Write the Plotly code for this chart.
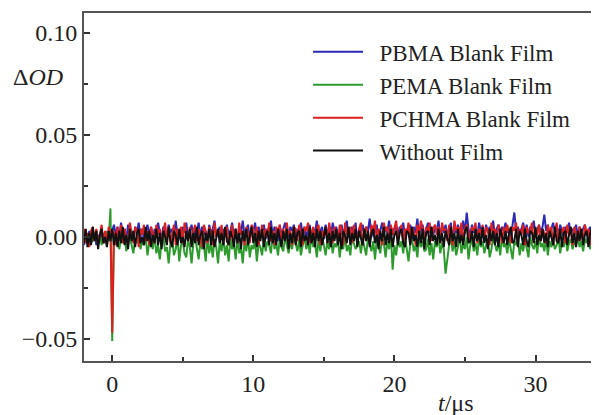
import plotly.graph_objects as go

# Time axis: uniform instrument sampling (µs)
T_START = -2.0
T_STEP = 0.125
N_POINTS = 293
t_us = [T_START + T_STEP * i for i in range(N_POINTS)]

# ΔOD values in mOD (1e-3)
pbma_mod = [
    -4, 1, -2, 3, -3, 0, 2, -4, 1, -1, 3, -3, 0, 2, -2, 4, 3, 6, 1, 5,
    0, 7, 2, 4, -1, 6, 1, 3, -2, 5, 2, 7, 0, 4, -1, 3, 6, 1, 5, -2,
    4, 1, 7, 2, 0, 5, 3, -1, 6, 2, 4, 0, 8, 1, 3, -2, 5, 2, 7, 0,
    3, 6, -1, 4, 2, 7, 0, 5, 1, 3, -2, 6, 2, 4, 8, 0, 3, 5, -1, 4,
    2, 6, 1, 3, 7, 0, 4, -2, 5, 2, 8, 1, 3, 6, -1, 4, 2, 7, 0, 5,
    1, 3, 6, -1, 4, 2, 8, 0, 5, 3, -2, 6, 1, 4, 7, 2, 0, 5, 3, 6,
    -1, 4, 2, 7, 1, 5, 0, 3, 6, -2, 4, 2, 8, 1, 3, 5, -1, 6, 2, 4,
    0, 7, 3, 5, 1, -1, 6, 2, 4, 8, 0, 3, 5, 1, 7, -2, 4, 2, 6, 1,
    5, 3, 9, 0, 4, 2, 6, -1, 3, 7, 1, 5, 2, 8, 0, 4, 3, 6, 1, 5,
    2, 7, 0, 4, 3, 6, -1, 5, 2, 9, 1, 4, 6, 0, 3, 7, 2, 5, 1, 4,
    3, 8, 0, 5, 2, 6, 1, 4, 7, -1, 5, 2, 6, 3, 0, 8, 2, 12, 4, 1,
    6, 2, 5, 0, 7, 3, 4, 1, 6, 2, 5, 3, 8, 0, 4, 6, 1, 5, 3, 7,
    2, 4, 0, 6, 12, 3, 5, 1, 4, 7, 2, 6, 0, 5, 3, 8, 1, 4, 6, 2,
    5, 11, 3, 6, 0, 4, 7, 2, 5, 1, 6, 3, 0, 5, 2, 7, 1, 4, 3, 6,
    0, 5, 2, 4, 6, 1, 3, 5, 0, 4, 2, 6, 1,
]
pema_mod = [
    2, -3, 1, -4, 3, -2, 0, 3, -3, 1, -4, 2, -1, 3, -2, 14, -51, 2, -4, 0,
    -6, -1, -3, 1, -7, -2, 0, -5, -8, -1, -3, 2, -6, -2, -4, 0, -9, -3, -1, -6,
    1, -8, -4, -11, -2, 0, -7, -5, -13, -3, -1, -9, -6, 0, -12, -4, -2, -8, -10, -1,
    -5, -13, -3, 0, -7, -11, -2, -6, -4, -12, 0, -8, -3, -10, -1, -5, -13, -2, -7, 0,
    -9, -4, -12, -1, -6, -3, -11, 0, -8, -5, -13, -2, -7, 0, -10, -4, -6, -1, -12, -3,
    -5, -9, 0, -7, -2, -4, -8, 1, -6, -3, -9, -1, -5, -7, 0, -4, -8, -2, -6, 1,
    -3, -7, -1, -9, -4, 0, -6, -2, -8, 1, -5, -3, -10, -1, -7, 0, -4, -9, -2, -6,
    0, -8, -3, -5, -1, -10, -2, -6, 1, -7, -4, -9, 0, -3, -6, -4, -2, -8, -1, -5,
    -9, 0, -4, -7, -2, -11, -1, -5, -8, 0, -3, -10, -2, -6, 1, -16, -4, -9, -1, -5,
    -2, -8, 0, -6, -12, -3, -1, -7, -4, -10, 0, -5, -2, -7, -6, -1, -9, -3, -11, -2,
    -5, 0, -8, -3, -6, -18, -10, -4, 0, -7, -2, -9, -5, 1, -8, -3, -6, 0, -11, -4,
    -1, -7, -3, -9, 0, -5, -2, -8, -4, -1, -10, -6, 0, -3, -7, -2, -9, 1, -5, -3,
    -8, -1, -6, -11, -2, -4, 0, -9, -3, -7, -1, -5, -10, 0, -4, -6, -2, -8, 1, -5,
    -3, -7, 0, -9, -2, -5, -1, -6, -4, 0, -8, -2, -5, 1, -7, -3, -1, -6, -2, -4,
    0, -5, -2, -7, -1, -3, 1, -6, -2, -4, 0, -5, -2,
]
pchma_mod = [
    4, -3, 2, -5, 3, 5, -2, 4, -4, 1, 6, -3, 3, -4, 5, 2, -47, 3, -4, 5,
    -2, 6, -3, 4, 0, -4, 7, 2, -3, 5, 3, -5, 4, 1, 6, -2, 3, -4, 5, 2,
    -3, 6, 1, 4, -4, 3, 7, -2, 5, -3, 2, 6, -4, 4, 0, 5, -3, 7, 2, -2,
    5, -4, 3, 6, -2, 4, 1, -5, 6, 3, -3, 5, 2, -4, 7, 0, 4, -2, 6, -3,
    3, 5, -4, 2, 6, -2, 4, -3, 7, 1, 3, -4, 5, 2, -3, 6, 4, -2, 5, -4,
    2, 6, -3, 4, 0, 7, -2, 3, -4, 5, 2, 6, -3, 4, -2, 7, 1, 3, -4, 5,
    4, -2, 6, 1, -4, 5, 3, 7, -3, 2, 5, -2, 4, 6, -4, 3, 0, 5, -3, 7,
    2, -3, 5, 3, -2, 6, 4, -4, 7, 1, 3, 5, -3, 6, 2, -2, 4, 7, -4, 3,
    5, 0, -3, 6, 3, 8, -2, 4, 2, -4, 7, 3, 5, -3, 6, 1, 4, 8, -2, 3,
    6, -3, 4, 2, 7, -2, 5, 3, -4, 6, 1, 8, 4, -3, 5, 2, 7, -2, 4, 6,
    1, 5, -3, 7, 3, 4, -2, 6, 2, -4, 8, 3, 5, 1, 7, -3, 4, 6, 2, -2,
    5, 3, 7, -3, 4, 1, 6, -2, 5, 3, -4, 7, 2, 4, -2, 6, 3, -3, 5, 1,
    6, 2, -3, 5, 3, 7, -2, 4, 1, 6, -4, 5, 2, 3, 7, -3, 4, 1, 6, -2,
    4, 2, -3, 6, 1, 5, -4, 3, 7, -2, 4, 2, 5, -3, 6, 1, 3, -4, 5, 2,
    -2, 5, 3, -3, 6, 1, 4, -4, 3, 5, -2, 4, 1,
]
nofilm_mod = [
    -3, 4, -5, 2, -4, 5, -2, 3, -6, 1, 4, -3, 0, -5, 3, -2, 4, -4, 2, -5,
    3, -3, 5, -4, 1, -6, 4, -2, 3, -5, 2, 4, -3, 0, -4, 5, -2, 3, -5, 1,
    -3, 4, -4, 2, -6, 3, 0, -4, 5, -2, -5, 3, 1, -4, 4, -3, 0, -5, 3, -2,
    4, -5, 2, -3, 5, -4, 1, 3, -6, 2, -2, 4, -4, 3, -5, 0, 4, -3, 2, -4,
    5, -2, -4, 3, 0, -5, 4, -3, 2, -6, 3, -2, 4, -4, 1, 5, -3, 2, -5, 3,
    -2, 4, -5, 1, 3, -4, 5, -3, 2, -4, 4, 0, -5, 3, -2, 4, -6, 2, -3, 5,
    -4, 2, 3, -5, 4, -2, 1, -4, 5, -3, 2, -5, 4, -2, 3, -4, 0, 5, -3, 2,
    -5, 3, -2, 4, -4, 2, -6, 3, 1, -3, 5, -4, 2, -2, 4, -5, 3, 0, -4, 4,
    -2, 3, -5, 2, 4, -3, 1, -6, 3, -2, 5, -4, 2, -3, 4, -5, 1, 3, -4, 2,
    4, -3, -5, 3, 2, -4, 5, -2, 1, -5, 3, -3, 4, -6, 2, 3, -4, 5, -2, 1,
    -4, 4, -3, 2, -5, 3, 0, -4, 5, -2, 2, -5, 4, -3, 1, -4, 3, 5, -3, -2,
    3, -5, 4, -2, 2, -4, 5, -3, 1, -6, 4, -2, 3, -4, 2, -5, 4, 0, -3, 3,
    -4, 2, 5, -3, -2, 4, -5, 3, 1, -4, 4, -2, -5, 3, 2, -3, 5, -4, 1, -2,
    4, -3, 2, -5, 3, 0, -4, 5, -2, -3, 4, -5, 2, 3, -4, 1, 5, -3, 2, -5,
    3, -2, 4, -4, 1, 3, -5, 2, 4, -3, -2, 4, -4,
]

series_names = ["PBMA Blank Film", "PEMA Blank Film", "PCHMA Blank Film", "Without Film"]
series_values = [pbma_mod, pema_mod, pchma_mod, nofilm_mod]
series_colors = ["#2a2ab8", "#2e9a2e", "#dc2020", "#111111"]

x_tickvals = [0, 10, 20, 30]
y_tickvals = [-0.05, 0.0, 0.05, 0.10]

FONT = "Liberation Serif, Times New Roman, serif"
FS = 24
LEG_FS = 23
PAD = "\u00a0\u00a0"  # small gap between legend line and label

fig = go.Figure()
for name, vals, col in zip(series_names, series_values, series_colors):
    n = min(len(vals), len(t_us))
    fig.add_trace(go.Scatter(
        x=t_us[:n], y=[v / 1000.0 for v in vals[:n]], mode="lines", name=PAD + name,
        line=dict(color=col, width=2.0),
    ))

axis_common = dict(
    showline=True, linecolor="#555555", linewidth=2,
    ticks="inside", ticklen=6, tickwidth=1.5, tickcolor="#333333",
    showgrid=False, zeroline=False, automargin=False,
    tickfont=dict(family=FONT, size=FS, color="#222222"),
)
fig.update_xaxes(range=[-2.0, 34.5], tickvals=x_tickvals, mirror=True,
                 minor=dict(dtick=5, tick0=0, ticks="inside", ticklen=4, tickcolor="#333333"),
                 **axis_common)
fig.update_yaxes(range=[-0.0608, 0.1098], tickvals=y_tickvals, tickformat=".2f",
                 ticklabelstandoff=0,
                 minor=dict(dtick=0.025, tick0=0, ticks="inside", ticklen=4, tickcolor="#333333"),
                 **axis_common)

# page body has an 8px margin: figure is 591x407 so the plot frame lands where the reference has it
fig.update_layout(
    width=591, height=407,
    margin=dict(l=76, r=0, t=5, b=54, autoexpand=False),
    paper_bgcolor="white", plot_bgcolor="white",
    showlegend=True,
    legend=dict(x=0.435, y=0.95, xanchor="left", yanchor="top", itemwidth=50,
                bgcolor="rgba(0,0,0,0)", font=dict(family=FONT, size=LEG_FS, color="#222222"),
                tracegroupgap=0),
    annotations=[
        dict(text="Δ<i>OD</i>", xref="paper", yref="paper", x=-0.0893, y=0.816,
             xanchor="center", yanchor="middle",
             showarrow=False, font=dict(family=FONT, size=FS, color="#222222")),
        dict(text="<i>t</i>/μs", xref="paper", yref="paper", x=0.7223, y=-0.1207,
             xanchor="center", yanchor="middle",
             showarrow=False, font=dict(family=FONT, size=FS, color="#222222")),
    ],
)

fig.write_html("out.html")
